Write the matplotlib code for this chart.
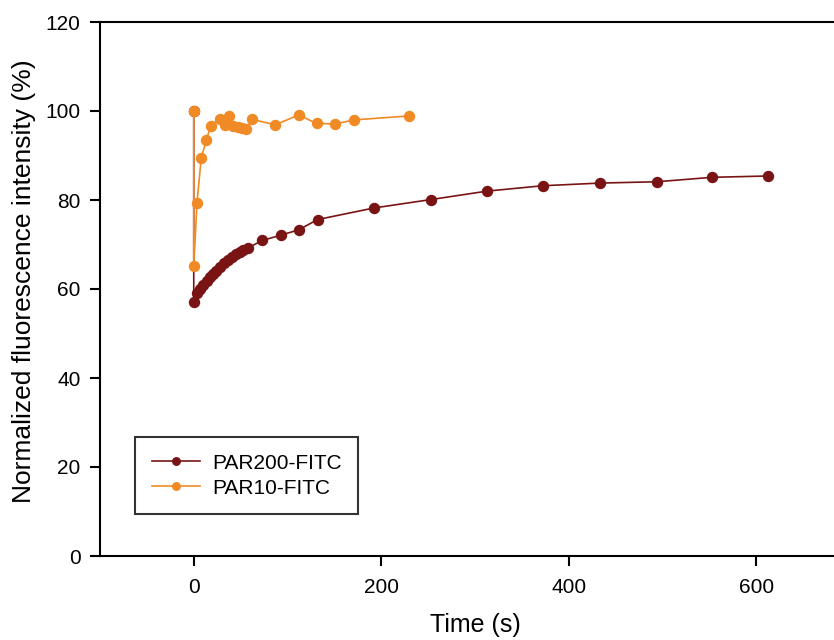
import matplotlib
matplotlib.use("Agg")
import matplotlib.pyplot as plt

plt.rcParams['font.family'] = ['Liberation Sans', 'DejaVu Sans']

# PAR200-FITC
t200 = [0, 0, 3.2, 6.4, 9.6, 13.9, 17, 20.3, 23.5, 27.7, 32, 36, 40.5, 44.8, 49, 53, 57.6,
        73, 93, 112, 132, 192, 253, 313, 372, 433, 494, 553, 613]
y200 = [100, 57, 59.1, 60.0, 61.0, 61.8, 62.7, 63.4, 64.0, 65.0, 65.8, 66.5, 67.2, 67.9, 68.3, 68.8, 69.2,
        70.9, 72.1, 73.3, 75.6, 78.2, 80.1, 82.0, 83.2, 83.8, 84.1, 85.1, 85.4]

# PAR10-FITC
t10 = [0, 0, 3.5, 8, 13.5, 18, 28, 33, 37.7, 42, 47, 51, 56, 62.6, 87, 112, 131, 151, 171, 230]
y10 = [100, 65.2, 79.4, 89.5, 93.5, 96.6, 98.3, 96.9, 98.9, 96.6, 96.3, 96.1, 96.0, 98.1, 96.9,
       99.1, 97.2, 97.1, 98.0, 98.9]

xticks = [0, 200, 400, 600]
yticks = [0, 20, 40, 60, 80, 100, 120]

fig = plt.figure(figsize=(8.34, 6.4), dpi=100)
ax = fig.add_axes([100/834, 1 - 556/640, 750/834, 534/640])

c200 = '#7a1414'
c10 = '#f08a24'
ax.plot(t200, y200, '-o', color=c200, lw=1.2, ms=7.2, mec=c200, label='PAR200-FITC', zorder=3)
ax.plot(t10, y10, '-o', color=c10, lw=1.2, ms=7.2, mec=c10, label='PAR10-FITC', zorder=4)

ax.set_xlim(-100, 700)
ax.set_ylim(0, 120)
ax.set_xticks(xticks)
ax.set_yticks(yticks)
ax.tick_params(direction='out', length=7, width=1.5, labelsize=15)
ax.tick_params(axis='x', pad=9)
ax.tick_params(axis='y', pad=7)
ax.spines['right'].set_visible(False)
for s in ['left', 'bottom', 'top']:
    ax.spines[s].set_linewidth(1.5)

ax.set_xlabel('Time (s)', fontsize=18)
ax.xaxis.set_label_coords(0.5, -(625 - 556) / 534, transform=ax.transAxes)
ax.xaxis.label.set_va('center')
ax.set_ylabel('Normalized fluorescence intensity (%)', fontsize=19)
ax.yaxis.set_label_coords(-(100 - 24) / 750, (556 - 281) / 534, transform=ax.transAxes)
ax.yaxis.label.set_va('center')

leg = ax.legend(loc='upper left', bbox_to_anchor=(35/750, (556-437)/534), frameon=True,
                fancybox=False, edgecolor='black', fontsize=15, handlelength=2.3,
                borderpad=0.8, labelspacing=0.28, handletextpad=0.6, borderaxespad=0,
                markerscale=0.75)
leg.get_frame().set_linewidth(1.5)

fig.savefig('out.png', dpi=100)
